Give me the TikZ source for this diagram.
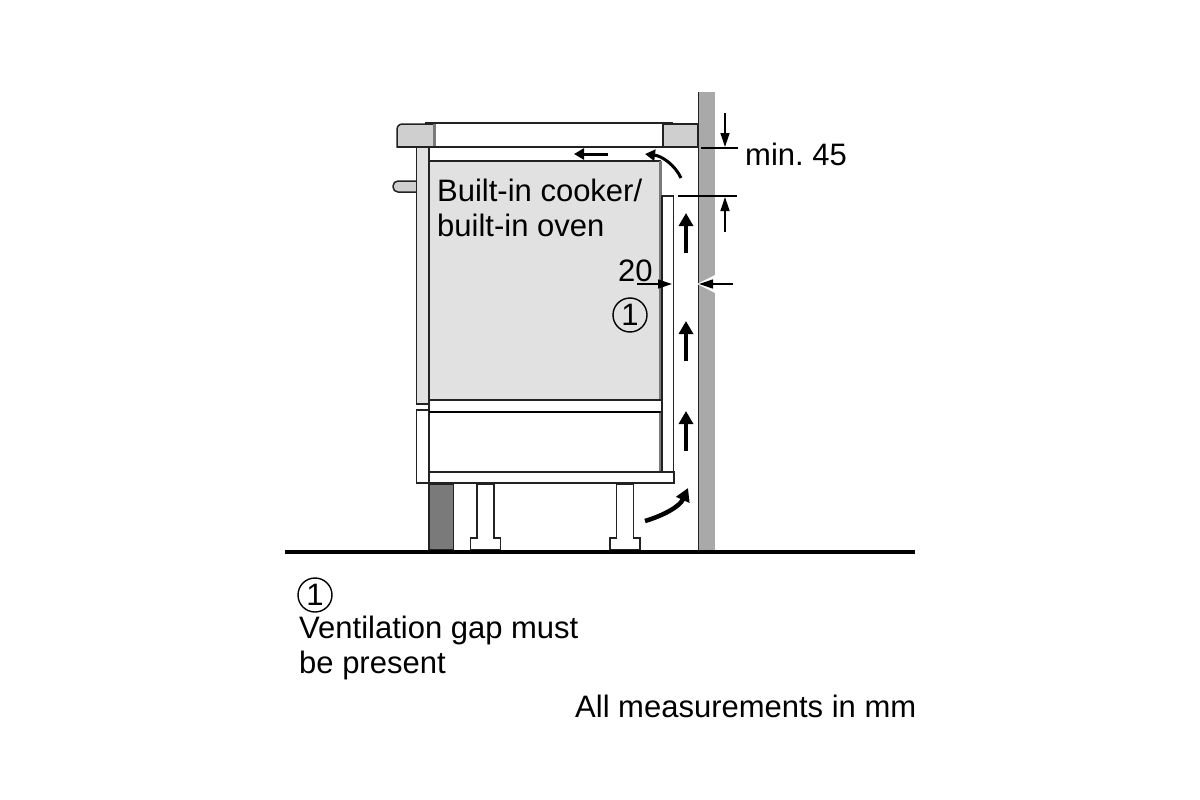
\documentclass[tikz,border=0pt]{standalone}
\usepackage{fontspec}
\setmainfont{Liberation Sans}
\usetikzlibrary{arrows, arrows.meta}

\definecolor{wallgray}{HTML}{A9A9A9}
\definecolor{hobgray}{HTML}{CFCFCF}
\definecolor{ovengray}{HTML}{E1E1E1}
\definecolor{plinthgray}{HTML}{7A7A7A}
\definecolor{linegray}{HTML}{222222}

\tikzset{
  part/.style={draw=linegray, line width=1.5pt},
  label text/.style={anchor=base west, inner sep=0pt, font=\fontsize{31}{36}\selectfont},
  flow/.style={line width=4.5pt, -{Triangle[length=13pt, width=14pt]}},
  flow small/.style={line width=3pt, -{Triangle[length=10pt, width=11pt]}},
  dim line/.style={line width=1.8pt},
  dim arrow/.style={line width=1.3pt, -{Triangle[length=14pt, width=9pt]}},
  mark circle/.style={circle, draw, line width=1.4pt, inner sep=0pt, minimum size=34pt, font=\fontsize{31}{36}\selectfont}
}

\begin{document}
\frenchspacing
\begin{tikzpicture}[x=1pt, y=-1pt]
  \useasboundingbox (0,0) rectangle (1200,800);

  % wall
  \fill[wallgray] (699,92) rectangle (715,551);
  \draw[part] (698.5,92) -- (698.5,551);

  % hob
  \draw[line width=2.4pt, draw=linegray] (425,123) -- (673,123);
  \draw[part, fill=hobgray] (435,124) -- (403,124) .. controls (399,124) and (397,126) .. (397,130) -- (397,147) -- (435,147) -- cycle;
  \fill[plinthgray] (433,124) rectangle (435.5,147);
  \draw[part, fill=hobgray] (663,124) rectangle (698,147);
  \draw[part] (397,147) -- (698,147);

  % knob and front panels
  \draw[part, fill=hobgray, rounded corners=5pt] (417,181) -- (393,181) -- (393,192) -- (417,192);
  \draw[part, fill=ovengray] (416.5,147) rectangle (429,404);
  \draw[part, fill=white] (416.5,410) rectangle (429,483);

  % oven body
  \draw[part, fill=ovengray] (429,161) rectangle (660.5,400);
  \draw[line width=2.5pt, draw=plinthgray] (660.5,161) -- (660.5,472);
  \draw[part, fill=white] (662,196) rectangle (673.5,472);
  \draw[part, fill=white] (429,400) rectangle (662,412);
  \draw[line width=2.4pt] (429,412) -- (660,412);
  \draw[part, fill=white] (429,472) rectangle (674,483);

  % plinth and feet
  \draw[part, fill=plinthgray] (429,484) rectangle (453.5,550);
  \foreach \footx in {485.5, 625} {
    \draw[part, fill=white] ({\footx-8.5},484) -- ({\footx-8.5},538) -- ({\footx-15},538) -- ({\footx-15},550)
      -- ({\footx+15},550) -- ({\footx+15},538) -- ({\footx+8.5},538) -- ({\footx+8.5},484) -- cycle;
  }

  % floor
  \draw[line width=4pt] (285,552) -- (915,552);

  % air flow
  \foreach \tipy/\taily in {213/253, 321/361, 411/451} {
    \draw[flow] (686,\taily) -- (686,\tipy);
  }
  \draw[flow] (645,521) .. controls (665,515) and (680,506) .. (688,488);
  \draw[flow small] (608,154) -- (574,154);
  \draw[flow small] (681,178) .. controls (675,165) and (662,156) .. (645,154);

  % dimensions
  \draw[dim line] (701,148) -- (738,148);
  \draw[dim line] (678,196) -- (737,196);
  \draw[dim arrow] (725,113) -- (725,147);
  \draw[dim arrow] (725,232) -- (725,197);
  \draw[dim arrow] (637,284) -- (672,284);
  \fill[white] (697,284) -- (715,275) -- (715,293) -- cycle;
  \draw[dim arrow] (733,284) -- (699,284);

  % labels
  \node[label text] (minlabel) at (745,165) {min. 45};
  \node[label text] (gaplabel) at (618,281) {20};
  \node[label text] (ovenlabel1) at (437,201) {Built-in cooker/};
  \node[label text] (ovenlabel2) at (437,236) {built-in oven};
  \node[mark circle] (mark1) at (630,315) {1};
  \node[mark circle] (mark2) at (315,595) {1};
  \node[label text] (note1) at (299,638) {Ventilation gap must};
  \node[label text] (note2) at (299,673) {be present};
  \node[label text] (units) at (575,717) {All measurements in mm};
\end{tikzpicture}
\end{document}
